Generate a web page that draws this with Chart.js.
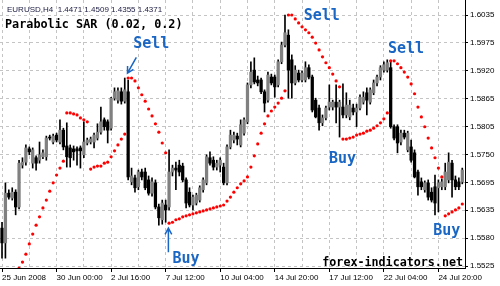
<!DOCTYPE html>
<html>
<head>
<meta charset="utf-8">
<script src="https://cdn.jsdelivr.net/npm/chart.js@4"></script>
<style>
  html, body { margin: 0; padding: 0; background: #fff; }
  #wrap { width: 500px; height: 286px; }
</style>
</head>
<body>
<div id="wrap"><canvas id="canvas"></canvas></div>
<script>
// EURUSD H4 candles, 25 Jun - 25 Jul 2008
var opens = [
  1.5602, 1.5572, 1.5673, 1.5663, 1.5675, 1.5645, 1.5730, 1.5736, 1.5763, 1.5734,
  1.5745, 1.5740, 1.5747, 1.5747, 1.5787, 1.5777, 1.5791, 1.5777, 1.5801, 1.5769,
  1.5765, 1.5763, 1.5763, 1.5765, 1.5751, 1.5775, 1.5777, 1.5777, 1.5785, 1.5797,
  1.5822, 1.5818, 1.5805, 1.5866, 1.5862, 1.5879, 1.5860, 1.5879, 1.5696, 1.5704,
  1.5686, 1.5716, 1.5716, 1.5700, 1.5673, 1.5694, 1.5645, 1.5619, 1.5649, 1.5645,
  1.5716, 1.5724, 1.5730, 1.5728, 1.5700, 1.5675, 1.5649, 1.5653, 1.5659, 1.5680,
  1.5694, 1.5745, 1.5740, 1.5726, 1.5730, 1.5726, 1.5694, 1.5767, 1.5781, 1.5789,
  1.5771, 1.5795, 1.5818, 1.5893, 1.5923, 1.5903, 1.5903, 1.5879, 1.5862, 1.5909,
  1.5909, 1.5893, 1.5940, 1.5974, 1.5994, 1.5944, 1.5897, 1.5917, 1.5903, 1.5903,
  1.5928, 1.5909, 1.5862, 1.5846, 1.5816, 1.5826, 1.5848, 1.5848, 1.5858, 1.5848,
  1.5848, 1.5832, 1.5828, 1.5846, 1.5838, 1.5846, 1.5858, 1.5877, 1.5858, 1.5877,
  1.5897, 1.5909, 1.5923, 1.5923, 1.5928, 1.5808, 1.5808, 1.5777, 1.5795, 1.5761,
  1.5767, 1.5755, 1.5716, 1.5696, 1.5680, 1.5694, 1.5675, 1.5686, 1.5684, 1.5686,
  1.5686, 1.5700, 1.5734, 1.5700, 1.5696, 1.5696
];
var highs = [
  1.5614, 1.5694, 1.5680, 1.5684, 1.5680, 1.5740, 1.5745, 1.5771, 1.5767, 1.5765,
  1.5749, 1.5777, 1.5761, 1.5789, 1.5791, 1.5793, 1.5795, 1.5822, 1.5805, 1.5816,
  1.5771, 1.5769, 1.5767, 1.5769, 1.5818, 1.5785, 1.5787, 1.5795, 1.5814, 1.5848,
  1.5826, 1.5822, 1.5868, 1.5887, 1.5887, 1.5887, 1.5907, 1.5903, 1.5724, 1.5710,
  1.5720, 1.5722, 1.5724, 1.5708, 1.5704, 1.5700, 1.5651, 1.5659, 1.5659, 1.5761,
  1.5730, 1.5736, 1.5740, 1.5734, 1.5704, 1.5684, 1.5669, 1.5673, 1.5688, 1.5704,
  1.5751, 1.5757, 1.5747, 1.5740, 1.5745, 1.5734, 1.5771, 1.5801, 1.5797, 1.5795,
  1.5822, 1.5826, 1.5897, 1.5940, 1.5948, 1.5911, 1.5907, 1.5883, 1.5919, 1.5915,
  1.5913, 1.5944, 1.5980, 1.6035, 1.6005, 1.5954, 1.5932, 1.5923, 1.5921, 1.5940,
  1.5934, 1.5913, 1.5866, 1.5852, 1.5832, 1.5850, 1.5893, 1.5862, 1.5893, 1.5862,
  1.5895, 1.5877, 1.5862, 1.5854, 1.5854, 1.5873, 1.5879, 1.5887, 1.5887, 1.5903,
  1.5913, 1.5932, 1.5940, 1.5944, 1.5940, 1.5812, 1.5812, 1.5801, 1.5801, 1.5799,
  1.5781, 1.5761, 1.5720, 1.5704, 1.5698, 1.5700, 1.5684, 1.5710, 1.5700, 1.5702,
  1.5734, 1.5755, 1.5740, 1.5708, 1.5704, 1.5724
];
var lows = [
  1.5541, 1.5541, 1.5661, 1.5659, 1.5629, 1.5641, 1.5724, 1.5730, 1.5751, 1.5724,
  1.5720, 1.5734, 1.5743, 1.5740, 1.5781, 1.5773, 1.5777, 1.5773, 1.5761, 1.5726,
  1.5726, 1.5740, 1.5730, 1.5724, 1.5745, 1.5771, 1.5773, 1.5765, 1.5781, 1.5793,
  1.5801, 1.5775, 1.5801, 1.5862, 1.5856, 1.5854, 1.5856, 1.5700, 1.5690, 1.5675,
  1.5680, 1.5700, 1.5680, 1.5669, 1.5667, 1.5641, 1.5608, 1.5610, 1.5614, 1.5639,
  1.5708, 1.5680, 1.5708, 1.5696, 1.5643, 1.5645, 1.5639, 1.5649, 1.5655, 1.5675,
  1.5690, 1.5730, 1.5720, 1.5720, 1.5716, 1.5690, 1.5690, 1.5763, 1.5775, 1.5771,
  1.5767, 1.5791, 1.5814, 1.5887, 1.5895, 1.5891, 1.5875, 1.5838, 1.5858, 1.5893,
  1.5868, 1.5889, 1.5936, 1.5970, 1.5866, 1.5866, 1.5893, 1.5899, 1.5899, 1.5899,
  1.5905, 1.5838, 1.5826, 1.5801, 1.5810, 1.5822, 1.5842, 1.5842, 1.5816, 1.5787,
  1.5826, 1.5826, 1.5822, 1.5832, 1.5808, 1.5842, 1.5854, 1.5832, 1.5854, 1.5873,
  1.5891, 1.5903, 1.5919, 1.5919, 1.5805, 1.5781, 1.5755, 1.5771, 1.5783, 1.5757,
  1.5736, 1.5704, 1.5669, 1.5680, 1.5675, 1.5659, 1.5655, 1.5629, 1.5635, 1.5680,
  1.5680, 1.5694, 1.5665, 1.5680, 1.5680, 1.5692
];
var closes = [
  1.5572, 1.5673, 1.5665, 1.5675, 1.5645, 1.5734, 1.5736, 1.5765, 1.5757, 1.5761,
  1.5734, 1.5751, 1.5755, 1.5785, 1.5785, 1.5789, 1.5781, 1.5801, 1.5767, 1.5747,
  1.5745, 1.5757, 1.5759, 1.5759, 1.5777, 1.5781, 1.5783, 1.5791, 1.5797, 1.5818,
  1.5808, 1.5801, 1.5866, 1.5879, 1.5881, 1.5860, 1.5883, 1.5706, 1.5708, 1.5684,
  1.5716, 1.5706, 1.5684, 1.5673, 1.5696, 1.5645, 1.5623, 1.5653, 1.5639, 1.5716,
  1.5724, 1.5720, 1.5716, 1.5700, 1.5653, 1.5649, 1.5665, 1.5669, 1.5684, 1.5700,
  1.5747, 1.5734, 1.5726, 1.5734, 1.5740, 1.5694, 1.5767, 1.5791, 1.5791, 1.5783,
  1.5812, 1.5822, 1.5893, 1.5919, 1.5899, 1.5897, 1.5879, 1.5856, 1.5913, 1.5897,
  1.5889, 1.5940, 1.5974, 1.5999, 1.5923, 1.5897, 1.5923, 1.5903, 1.5917, 1.5928,
  1.5909, 1.5842, 1.5828, 1.5816, 1.5826, 1.5846, 1.5858, 1.5858, 1.5848, 1.5858,
  1.5832, 1.5852, 1.5852, 1.5838, 1.5846, 1.5868, 1.5868, 1.5862, 1.5883, 1.5897,
  1.5909, 1.5928, 1.5934, 1.5938, 1.5808, 1.5785, 1.5775, 1.5795, 1.5787, 1.5795,
  1.5740, 1.5706, 1.5686, 1.5686, 1.5694, 1.5665, 1.5659, 1.5653, 1.5694, 1.5696,
  1.5716, 1.5736, 1.5700, 1.5686, 1.5686, 1.5720
];
// Parabolic SAR (0.02, 0.2), one value per bar
var sar = [
  null, null, null, null, null,
  1.5521, 1.5533, 1.5549, 1.5570, 1.5590, 1.5608, 1.5625, 1.5643, 1.5659, 1.5677,
  1.5694, 1.5710, 1.5724, 1.5738,
  1.5836, 1.5836, 1.5834, 1.5832, 1.5826, 1.5822, 1.5818,
  1.5722, 1.5726, 1.5728, 1.5728, 1.5734, 1.5736, 1.5747, 1.5759, 1.5771, 1.5783, 1.5793,
  1.5907, 1.5907, 1.5901, 1.5887, 1.5873, 1.5860, 1.5844, 1.5830, 1.5814, 1.5797,
  1.5775, 1.5755,
  1.5612, 1.5614, 1.5619, 1.5621, 1.5625, 1.5627, 1.5629, 1.5631, 1.5633, 1.5635,
  1.5637, 1.5639, 1.5641, 1.5643, 1.5645, 1.5647, 1.5649, 1.5657, 1.5665, 1.5675,
  1.5684, 1.5692, 1.5698, 1.5706, 1.5726, 1.5749, 1.5773, 1.5795, 1.5814, 1.5830,
  1.5840, 1.5848, 1.5856, 1.5866, 1.5881,
  1.6035, 1.6035, 1.6027, 1.6019, 1.6011, 1.6005, 1.5999, 1.5990, 1.5978, 1.5964,
  1.5950, 1.5938, 1.5928, 1.5915, 1.5901, 1.5889,
  1.5783, 1.5783, 1.5785, 1.5787, 1.5791, 1.5793, 1.5795, 1.5799, 1.5801, 1.5805,
  1.5810, 1.5816, 1.5824, 1.5836,
  1.5942, 1.5942, 1.5936, 1.5928, 1.5919, 1.5909, 1.5895, 1.5875, 1.5848, 1.5828,
  1.5808, 1.5785, 1.5765, 1.5745, 1.5724, 1.5706,
  1.5627, 1.5631, 1.5635, 1.5639, 1.5643, 1.5651
];
// one time label every 16 bars
var dateLabels = ['25 Jun 2008', '30 Jun 00:00', '2 Jul 16:00', '7 Jul 12:00', '10 Jul 04:00',
  '14 Jul 20:00', '17 Jul 12:00', '22 Jul 04:00', '24 Jul 20:00'];
var priceLabels = ['1.5525', '1.5580', '1.5635', '1.5695', '1.5750', '1.5805', '1.5865',
  '1.5920', '1.5975', '1.6035'];
// signal labels, placed by bar index and price
var signals = [
  { text: 'Sell', bar: 38.5, price: 1.5968 },
  { text: 'Sell', bar: 88.5, price: 1.6025 },
  { text: 'Sell', bar: 113.2, price: 1.5958 },
  { text: 'Buy', bar: 50, price: 1.5532 },
  { text: 'Buy', bar: 95.9, price: 1.5734 },
  { text: 'Buy', bar: 126.5, price: 1.5588 }
];
var arrows = [
  { bar1: 39.4, p1: 1.5949, bar2: 36.8, p2: 1.5917 },
  { bar1: 48.8, p1: 1.5553, bar2: 48.8, p2: 1.5602 }
];

var idx = closes.map(function (c, i) { return i; });
var wickData = idx.map(function (i) { return { x: i, y: [lows[i], highs[i]] }; });
var bodyData = idx.map(function (i) { return { x: i, y: [opens[i], closes[i]] }; });
var bodyColors = idx.map(function (i) { return closes[i] >= opens[i] ? '#808080' : '#000000'; });
var sarData = [];
sar.forEach(function (v, i) { if (v !== null) sarData.push({ x: i, y: v }); });

var blue = '#1a66c4';
var overlay = {
  id: 'overlay',
  afterDatasetsDraw: function (chart) {
    var ctx = chart.ctx, sx = chart.scales.x, sy = chart.scales.y, a = chart.chartArea;
    ctx.save();
    ctx.textBaseline = 'alphabetic';
    ctx.textAlign = 'left';
    ctx.fillStyle = '#1a1a40';
    ctx.font = '8px "Liberation Sans"';
    ctx.fillText('EURUSD,H4  1.4471 1.4509 1.4355 1.4371', 7, 12);
    ctx.fillStyle = '#000';
    ctx.font = 'bold 11.8px "DejaVu Sans Mono"';
    ctx.fillText('Parabolic SAR (0.02, 0.2)', 5, 28);

    ctx.fillStyle = blue;
    ctx.font = 'bold 15px "DejaVu Sans Mono"';
    signals.forEach(function (s) {
      ctx.fillText(s.text, sx.getPixelForValue(s.bar), sy.getPixelForValue(s.price));
    });
    ctx.strokeStyle = blue;
    ctx.lineWidth = 1.5;
    arrows.forEach(function (ar) {
      var x1 = sx.getPixelForValue(ar.bar1), y1 = sy.getPixelForValue(ar.p1);
      var x2 = sx.getPixelForValue(ar.bar2), y2 = sy.getPixelForValue(ar.p2);
      var ang = Math.atan2(y2 - y1, x2 - x1);
      ctx.beginPath();
      ctx.moveTo(x1, y1);
      ctx.lineTo(x2, y2);
      ctx.moveTo(x2 - 7 * Math.cos(ang - 0.5), y2 - 7 * Math.sin(ang - 0.5));
      ctx.lineTo(x2, y2);
      ctx.lineTo(x2 - 7 * Math.cos(ang + 0.5), y2 - 7 * Math.sin(ang + 0.5));
      ctx.stroke();
    });

    ctx.fillStyle = '#000';
    ctx.textAlign = 'right';
    ctx.font = 'bold 11.7px "DejaVu Sans Mono"';
    ctx.fillText('forex-indicators.net', a.right - 2, a.bottom - 2);
    ctx.restore();
  }
};

const ctx = document.getElementById('canvas').getContext('2d');
const myChart = new Chart(ctx, {
  type: 'bar',
  data: {
    datasets: [{
      label: 'wick',
      data: wickData,
      backgroundColor: '#000000',
      barThickness: 1,
      grouped: false,
      order: 3
    }, {
      label: 'body',
      data: bodyData,
      backgroundColor: bodyColors,
      barThickness: 2.6,
      minBarLength: 1,
      grouped: false,
      order: 2
    }, {
      type: 'scatter',
      label: 'SAR',
      data: sarData,
      backgroundColor: '#ff0000',
      borderWidth: 0,
      pointRadius: 1.6,
      order: 1
    }]
  },
  options: {
    responsive: true,
    maintainAspectRatio: false,
    animation: false,
    layout: { padding: 0, autoPadding: false },
    plugins: { legend: { display: false }, tooltip: { enabled: false } },
    scales: {
      x: {
        type: 'linear',
        min: -0.59,
        max: 135.8,
        offset: false,
        afterBuildTicks: function (s) {
          var t = [];
          for (var i = 0; i <= 128; i += 8) t.push({ value: i });
          s.ticks = t;
        },
        afterFit: function (s) { s.height = 18; s.paddingLeft = 0; s.paddingRight = 0; },
        ticks: {
          autoSkip: false,
          maxRotation: 0,
          align: 'start',
          padding: 1,
          color: '#000',
          font: { family: 'Liberation Sans', size: 8 },
          callback: function (v) { return v % 16 === 0 ? dateLabels[v / 16] : ''; }
        },
        grid: {
          offset: false,
          color: '#c4c4c4',
          tickLength: 4,
          tickColor: function (c) { return c.tick && c.tick.value % 16 === 0 ? '#000' : 'rgba(0,0,0,0)'; }
        },
        border: { color: '#000', dash: [3, 3] }
      },
      y: {
        position: 'right',
        min: 1.5521,
        max: 1.60655,
        beginAtZero: false,
        afterBuildTicks: function (s) {
          var n = priceLabels.length;
          s.ticks = priceLabels.map(function (t, k) {
            return { value: 1.5525 + k * (1.6035 - 1.5525) / (n - 1) };
          });
        },
        afterFit: function (s) { s.width = 35; s.paddingTop = 0; s.paddingBottom = 0; },
        ticks: {
          padding: 2,
          color: '#000',
          font: { family: 'Liberation Sans', size: 8 },
          callback: function (v, i) { return priceLabels[i]; }
        },
        grid: { color: '#c4c4c4', tickLength: 3, tickColor: '#000' },
        border: { color: '#000', dash: [3, 3] }
      }
    }
  },
  plugins: [overlay]
});
</script>
</body>
</html>
